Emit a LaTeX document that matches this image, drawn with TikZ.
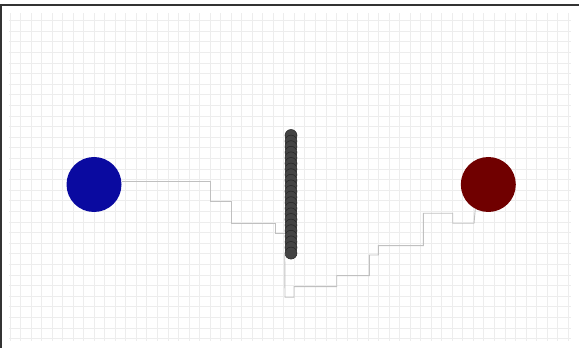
\documentclass[tikz,border=0pt]{standalone}
\usepackage{tikz}
\usetikzlibrary{calc}

\definecolor{startblue}{RGB}{10,10,160}
\definecolor{goalred}{RGB}{112,0,0}
\definecolor{beadgray}{RGB}{68,68,68}
\definecolor{gridgray}{RGB}{237,237,237}
\definecolor{trailgray}{RGB}{192,192,192}

\begin{document}
\begin{tikzpicture}[
  x=1pt, y=1pt,
  gridline/.style={
    draw=gridgray,
    line width=0.8pt
  },
  frameline/.style={
    draw=black!80,
    line width=1.4pt
  },
  disc/.style={
    circle,
    inner sep=0pt,
    minimum size=55pt
  },
  bead/.style={
    circle,
    inner sep=0pt,
    minimum size=12pt,
    fill=beadgray,
    draw=black!85,
    line width=0.5pt
  },
  trail/.style={
    draw=trailgray,
    line width=0.9pt
  }
]
\useasboundingbox (0,0) rectangle (579,348);

% Grid
\begin{scope}
  \clip (9,7) rectangle (571,335);
  \foreach \k in {0,...,53}
    \draw[gridline] ({10+10.53*\k},7) -- ({10+10.53*\k},335);
  \foreach \k in {0,...,30}
    \draw[gridline] (9,{327.3-10.6*\k}) -- (571,{327.3-10.6*\k});
\end{scope}

% Frame
\draw[frameline] (0,343) -- (579,343);
\draw[frameline] (1,343) -- (1,0);

% Start and goal
\node[disc, fill=startblue] (start) at (94,163.5) {};
\node[disc, fill=goalred] (goal) at (488.3,163.5) {};

% Obstacle
\foreach \i in {1,...,22}
  \node[bead] (o\i) at (291,{212.5-(\i-1)*5.6}) {};

% Trails
\draw[trail] ([yshift=3.5pt]start.east) -- (210,167) -- (210,146.3)
  -- (231.5,146.3) -- (231.5,124.7) -- (275,124.7) -- (275,114.5) -- (o19.west |- 0,114.5);
\draw[trail] (goal.242) -- (474,124.7) -- (452.7,124.7) -- (452.7,134.7)
  -- (423.3,134.7) -- (423.3,102.3) -- (378.3,102.3) -- (378.3,93)
  -- (369.3,93) -- (369.3,72.3) -- (336.7,72.3) -- (336.7,61.3)
  -- (294,61.3) -- (294,50.7) -- (285,50.7) -- (o22.west);

\end{tikzpicture}
\end{document}
